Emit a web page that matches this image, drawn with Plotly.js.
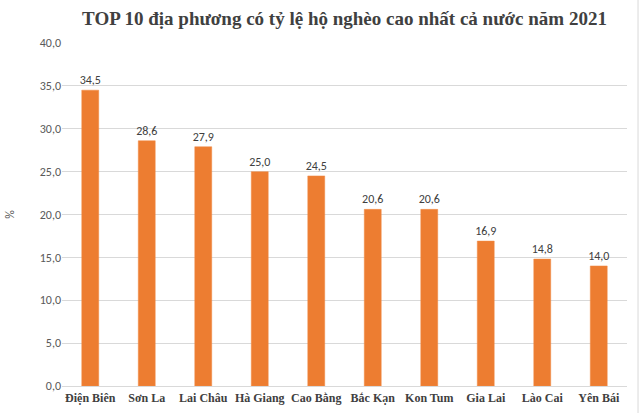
<!DOCTYPE html>
<html>
<head>
<meta charset="utf-8">
<script src="https://cdn.plot.ly/plotly-3.0.1.min.js"></script>
<style>html,body{margin:0;padding:0;background:#fff;}#chart{width:640px;height:413px;}</style>
</head>
<body>
<div id="chart"></div>
<script>
const provinces = ["Điện Biên", "Sơn La", "Lai Châu", "Hà Giang", "Cao Bằng", "Bắc Kạn", "Kon Tum", "Gia Lai", "Lào Cai", "Yên Bái"];
const povertyRate = [34.5, 28.6, 27.9, 25.0, 24.5, 20.6, 20.6, 16.9, 14.8, 14.0];
const yTicks = [0, 5, 10, 15, 20, 25, 30, 35, 40];

const fmt = v => v.toFixed(1).replace(".", ",");
const sans = "Carlito, 'Open Sans', 'DejaVu Sans', sans-serif";
const serif = "'Liberation Serif', 'Times New Roman', serif";

const trace = {
  type: "bar",
  x: provinces,
  y: povertyRate,
  marker: {color: "#ED7D31", line: {color: "#F08A45", width: 0.5}},
  text: povertyRate.map(fmt),
  textposition: "outside",
  constraintext: "none",
  textfont: {family: sans, size: 12, color: "#404040"},
  cliponaxis: false,
  hoverinfo: "skip"
};

const layout = {
  width: 640, height: 413,
  margin: {l: 62, r: 13, t: 43, b: 27},
  paper_bgcolor: "#ffffff",
  plot_bgcolor: "#ffffff",
  bargap: 0.7,
  showlegend: false,
  title: {
    text: "<b>TOP 10 địa phương có tỷ lệ hộ nghèo cao nhất cả nước năm 2021</b>",
    font: {family: serif, size: 19, color: "#404040"},
    x: 0.5, xanchor: "center", y: 0.955, yanchor: "middle", xref: "paper"
  },
  xaxis: {
    type: "category",
    tickvals: provinces,
    ticktext: provinces.map(p => "<b>" + p + "</b>"),
    tickfont: {family: serif, size: 12, color: "#404040"},
    ticklabelstandoff: 3,
    showgrid: false, zeroline: false, showline: false, ticks: "",
    automargin: false
  },
  yaxis: {
    range: [0, 40],
    tickvals: yTicks,
    ticktext: yTicks.map(fmt),
    tickfont: {family: sans, size: 12, color: "#595959"},
    showgrid: true, gridcolor: "#D9D9D9", gridwidth: 1,
    zeroline: true, zerolinecolor: "#D9D9D9", zerolinewidth: 1,
    showline: false, ticks: "", ticklen: 0,
    title: {text: "%", font: {family: sans, size: 12, color: "#595959"}, standoff: 22},
    automargin: false
  },
  shapes: [
    {type: "line", xref: "paper", yref: "paper", x0: 1.0195, x1: 1.0195, y0: -0.08, y1: 1.13, line: {color: "#D9D9D9", width: 1}}
  ]
};

Plotly.newPlot("chart", [trace], layout, {displayModeBar: false, staticPlot: true});
</script>
</body>
</html>
